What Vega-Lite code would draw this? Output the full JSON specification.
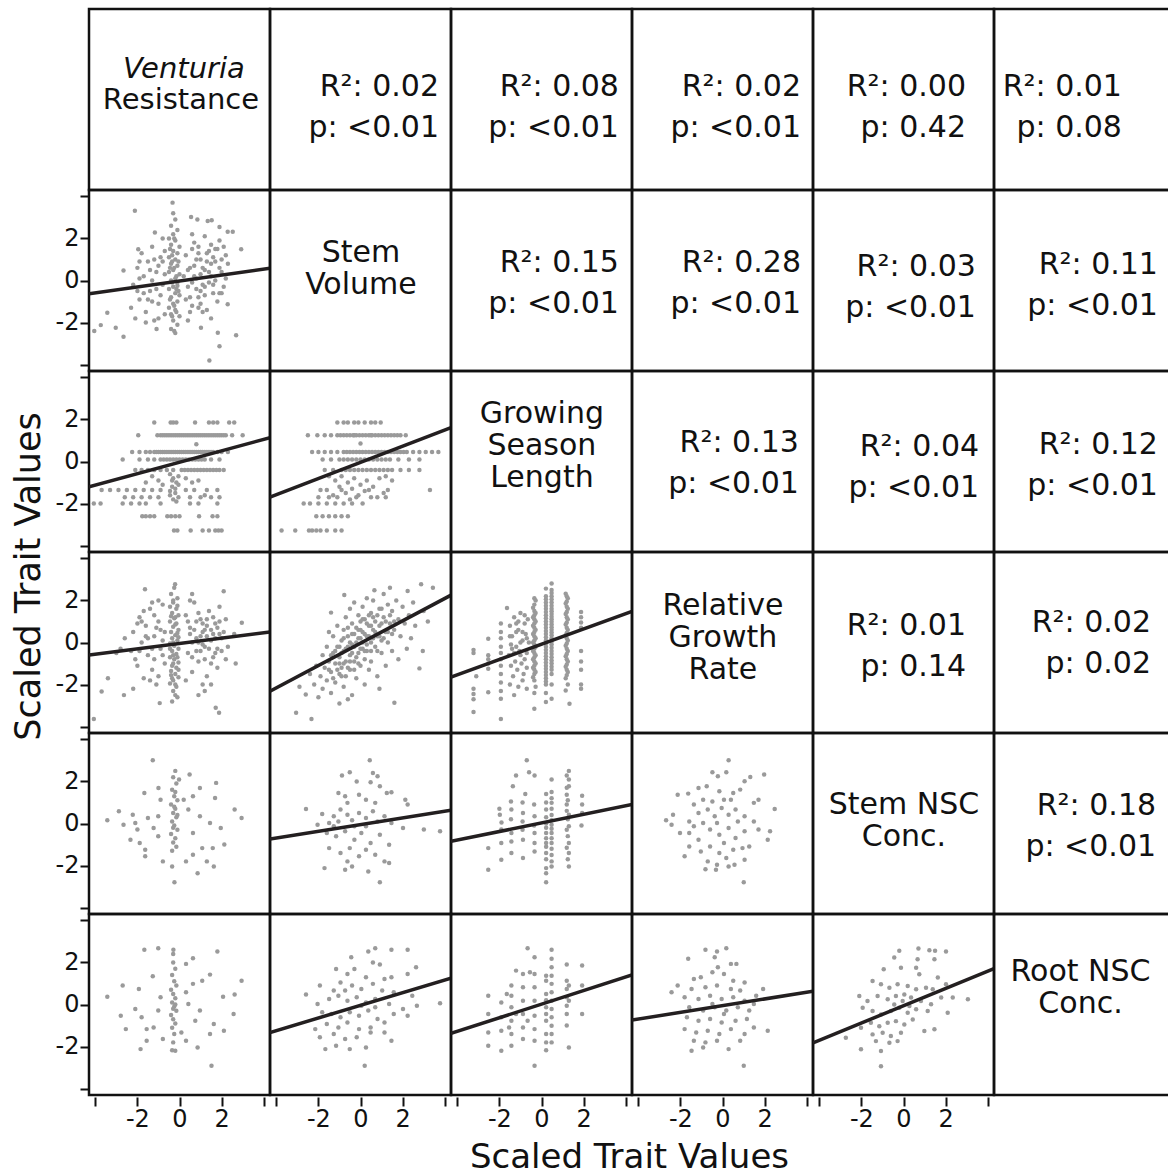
{
"$schema":"https://vega.github.io/schema/vega-lite/v6.json",
"padding":{"left":9,"top":7,"right":0,"bottom":0},
"bounds":"flush","columns":6,"spacing":0,
"config":{"view":{"stroke":"#111111","strokeWidth":2.5},"font":"DejaVu Sans",
"axis":{"domain":false,"grid":false,"tickColor":"#111111","tickWidth":2,"labelColor":"#111111","labelFont":"DejaVu Sans","labelFontSize":24,"labelFlush":false,"labelOverlap":false,"titleFont":"DejaVu Sans","titleFontSize":34,"titleFontWeight":"normal","titleColor":"#111111"},
"axisX":{"tickSize":9,"offset":2,"labelPadding":1},
"axisY":{"tickSize":9,"labelPadding":1},
"text":{"font":"DejaVu Sans","color":"#111111"}},
"concat":[
{"width":181,"height":181,"layer":[
 {"data":{"values":[{"t":"Venturia"}]},"mark":{"type":"text","fontStyle":"italic","fontSize":29,"baseline":"alphabetic","align":"center"},"encoding":{"text":{"field":"t","type":"nominal"},"x":{"datum":0.21,"type":"quantitative","scale":{"domain":[-4.3,4.3]},"axis":null},"y":{"datum":1.02,"type":"quantitative","scale":{"domain":[-4.3,4.3]},"axis":null}}},
 {"data":{"values":[{"t":"Resistance"}]},"mark":{"type":"text","fontSize":29,"baseline":"alphabetic","align":"center"},"encoding":{"text":{"field":"t","type":"nominal"},"x":{"datum":0.07,"type":"quantitative","scale":{"domain":[-4.3,4.3]},"axis":null},"y":{"datum":-0.45,"type":"quantitative","scale":{"domain":[-4.3,4.3]},"axis":null}}}]},
{"width":181,"height":181,"data":{"values":[{"t":"R²: 0.02\np: <0.01"}]},"mark":{"type":"text","lineBreak":"\n","align":"right","baseline":"middle","fontSize":30,"lineHeight":41},"encoding":{"text":{"field":"t","type":"nominal"},"x":{"datum":3.73,"type":"quantitative","scale":{"domain":[-4.3,4.3]},"axis":null},"y":{"datum":0.61,"type":"quantitative","scale":{"domain":[-4.3,4.3]},"axis":null}}},
{"width":181,"height":181,"data":{"values":[{"t":"R²: 0.08\np: <0.01"}]},"mark":{"type":"text","lineBreak":"\n","align":"right","baseline":"middle","fontSize":30,"lineHeight":41},"encoding":{"text":{"field":"t","type":"nominal"},"x":{"datum":3.68,"type":"quantitative","scale":{"domain":[-4.3,4.3]},"axis":null},"y":{"datum":0.61,"type":"quantitative","scale":{"domain":[-4.3,4.3]},"axis":null}}},
{"width":181,"height":181,"data":{"values":[{"t":"R²: 0.02\np: <0.01"}]},"mark":{"type":"text","lineBreak":"\n","align":"right","baseline":"middle","fontSize":30,"lineHeight":41},"encoding":{"text":{"field":"t","type":"nominal"},"x":{"datum":3.73,"type":"quantitative","scale":{"domain":[-4.3,4.3]},"axis":null},"y":{"datum":0.61,"type":"quantitative","scale":{"domain":[-4.3,4.3]},"axis":null}}},
{"width":181,"height":181,"data":{"values":[{"t":"R²: 0.00\np: 0.42"}]},"mark":{"type":"text","lineBreak":"\n","align":"right","baseline":"middle","fontSize":30,"lineHeight":41},"encoding":{"text":{"field":"t","type":"nominal"},"x":{"datum":2.97,"type":"quantitative","scale":{"domain":[-4.3,4.3]},"axis":null},"y":{"datum":0.61,"type":"quantitative","scale":{"domain":[-4.3,4.3]},"axis":null}}},
{"width":181,"height":181,"data":{"values":[{"t":"R²: 0.01\np: 0.08"}]},"mark":{"type":"text","lineBreak":"\n","align":"right","baseline":"middle","fontSize":30,"lineHeight":41},"encoding":{"text":{"field":"t","type":"nominal"},"x":{"datum":1.78,"type":"quantitative","scale":{"domain":[-4.3,4.3]},"axis":null},"y":{"datum":0.61,"type":"quantitative","scale":{"domain":[-4.3,4.3]},"axis":null}}},

{"width":181,"height":181,"encoding":{"x":{"field":"x","type":"quantitative","scale":{"domain":[-4.3,4.3],"nice":false,"zero":false},"axis":null},"y":{"field":"y","type":"quantitative","scale":{"domain":[-4.3,4.3],"nice":false,"zero":false},"axis":{"title":null,"values":[-4,-2,0,2,4],"labelExpr":"abs(datum.value) > 3 ? '' : '' + datum.value"}}},"layer":[
 {"data":{"values":[{"x":-0.3,"y":3.2},{"x":-0.2,"y":2.9},{"x":-0.4,"y":2.6},{"x":-0.1,"y":2.4},{"x":-0.3,"y":2.2},{"x":-0.5,"y":2.0},{"x":-0.2,"y":1.9},{"x":-0.4,"y":1.7},{"x":0,"y":1.6},{"x":-0.3,"y":1.4},{"x":-0.1,"y":1.3},{"x":-0.5,"y":1.1},{"x":-0.2,"y":1.0},{"x":-0.4,"y":0.8},{"x":-0.1,"y":0.7},{"x":-0.3,"y":0.5},{"x":-0.5,"y":0.4},{"x":0,"y":0.3},{"x":-0.2,"y":0.1},{"x":-0.4,"y":0},{"x":-0.1,"y":-0.1},{"x":-0.3,"y":-0.3},{"x":-0.5,"y":-0.4},{"x":-0.2,"y":-0.6},{"x":0,"y":-0.7},{"x":-0.4,"y":-0.8},{"x":-0.1,"y":-1.0},{"x":-0.3,"y":-1.1},{"x":-0.5,"y":-1.3},{"x":-0.2,"y":-1.4},{"x":-0.4,"y":-1.6},{"x":0,"y":-1.7},{"x":-0.3,"y":-1.9},{"x":-0.1,"y":-2.1},{"x":-0.4,"y":-2.3},{"x":-0.2,"y":-2.5},{"x":-0.35,"y":0.9},{"x":-0.15,"y":-0.4},{"x":-0.45,"y":1.5},{"x":-0.25,"y":-1.2},
 {"x":-0.25,"y":2.0},{"x":-0.35,"y":1.2},{"x":-0.05,"y":0.9},{"x":-0.45,"y":0.6},{"x":-0.15,"y":0.2},{"x":-0.35,"y":-0.1},{"x":-0.05,"y":-0.5},{"x":-0.45,"y":-0.9},{"x":-0.15,"y":-1.5},{"x":-0.35,"y":-1.7},{"x":-0.25,"y":0.6},{"x":-0.1,"y":-0.25},
 {"x":-2.2,"y":-0.2},{"x":-2.0,"y":0.6},{"x":-1.9,"y":-0.9},{"x":-1.8,"y":1.3},{"x":-1.7,"y":0.2},{"x":-1.6,"y":-1.5},{"x":-1.5,"y":0.9},{"x":-1.4,"y":-0.5},{"x":-1.3,"y":1.6},{"x":-1.2,"y":-1.9},{"x":-1.1,"y":0.4},{"x":-1.0,"y":-1.1},{"x":-0.9,"y":1.1},{"x":-0.8,"y":-0.2},{"x":-0.8,"y":2.0},{"x":-0.7,"y":-1.6},{"x":-1.3,"y":0.0},{"x":-1.6,"y":-2.0},{"x":-2.3,"y":-1.3},{"x":-2.1,"y":-1.8},{"x":-1.9,"y":0.1},{"x":-1.2,"y":1.0},{"x":-0.9,"y":-0.7},{"x":-1.0,"y":0.7},{"x":-1.5,"y":-0.9},{"x":0.3,"y":1.2},{"x":0.4,"y":-0.3},{"x":0.5,"y":0.6},{"x":0.6,"y":-1.2},{"x":0.7,"y":1.8},{"x":0.8,"y":0.1},{"x":0.9,"y":-0.8},{"x":1.0,"y":1.0},{"x":1.1,"y":-0.2},{"x":1.2,"y":0.5},{"x":1.3,"y":-1.4},{"x":1.4,"y":1.4},{"x":1.5,"y":0.2},{"x":1.6,"y":-0.6},{"x":1.7,"y":0.9},{"x":1.8,"y":-1.0},{"x":1.9,"y":1.9},{"x":2.0,"y":0.4},{"x":2.1,"y":-0.3},{"x":2.2,"y":1.2},{"x":0.6,"y":2.2},{"x":0.9,"y":1.6},{"x":1.2,"y":2.1},{"x":1.5,"y":-1.8},{"x":1.1,"y":-1.5},{"x":0.4,"y":-1.9},{"x":0.2,"y":0.2},{"x":0.3,"y":-0.9},{"x":2.3,"y":0.8},{"x":1.8,"y":1.5},
 {"x":-1.7,"y":-0.6},{"x":-1.4,"y":0.5},{"x":-1.1,"y":-0.4},{"x":-0.8,"y":0.9},{"x":-0.7,"y":0.3},{"x":-1.0,"y":-1.8},{"x":-1.9,"y":0.9},{"x":-0.7,"y":1.4},{"x":-1.3,"y":-1.0},{"x":-2.0,"y":-0.5},{"x":0.4,"y":0.5},{"x":0.5,"y":-0.8},{"x":0.7,"y":0.2},{"x":0.8,"y":1.0},{"x":1.0,"y":-0.5},{"x":1.1,"y":0.6},{"x":1.3,"y":1.3},{"x":1.4,"y":0.4},{"x":1.6,"y":-0.2},{"x":1.7,"y":1.5},{"x":1.9,"y":-0.6},{"x":2.0,"y":1.0},{"x":0.6,"y":1.5},{"x":1.2,"y":-0.3},{"x":0.5,"y":-1.5},{"x":1.5,"y":0.8},{"x":2.2,"y":0.1},{"x":0.9,"y":-1.3},
 {"x":0.7,"y":0.7},{"x":1.0,"y":0.3},{"x":1.3,"y":0.9},{"x":1.6,"y":1.1},{"x":1.4,"y":-0.1},{"x":0.8,"y":-0.4},{"x":1.7,"y":0.0},{"x":1.2,"y":-0.7},{"x":0.9,"y":1.3},{"x":1.9,"y":0.6},{"x":2.1,"y":1.6},{"x":1.5,"y":1.7},{"x":0.6,"y":-0.1},{"x":1.0,"y":-1.1},{"x":2.0,"y":-0.6},
 {"x":-4.05,"y":-2.4},{"x":-3.74,"y":-2.12},{"x":-3.43,"y":-1.53},{"x":-3.03,"y":-2.25},{"x":-2.66,"y":-2.67},{"x":-2.66,"y":0.48},{"x":-2.12,"y":3.31},{"x":-1.96,"y":1.48},{"x":-1.17,"y":2.28},{"x":-1.09,"y":-2.3},{"x":-0.33,"y":3.7},{"x":-0.25,"y":-2.4},{"x":0.55,"y":3.02},{"x":0.85,"y":2.9},{"x":1.34,"y":2.83},{"x":1.53,"y":2.86},{"x":1.9,"y":2.54},{"x":2.29,"y":2.32},{"x":2.53,"y":2.32},{"x":2.93,"y":1.48},{"x":2.69,"y":-2.6},{"x":1.9,"y":-3.12},{"x":1.42,"y":-3.8},{"x":2.29,"y":-1.13},{"x":1.82,"y":-2.48},{"x":1.02,"y":-2.25}]},"mark":{"type":"circle","size":20,"color":"#9a9a9a","opacity":1}},
 {"data":{"values":[{"x":-4.3,"y":-0.63},{"x":4.3,"y":0.58}]},"mark":{"type":"line","color":"#231f20","strokeWidth":3.5,"clip":true}}]},
{"width":181,"height":181,"data":{"values":[{"t":"Stem\nVolume"}]},"mark":{"type":"text","lineBreak":"\n","align":"center","baseline":"middle","fontSize":30,"lineHeight":32},"encoding":{"text":{"field":"t","type":"nominal"},"x":{"datum":0.02,"type":"quantitative","scale":{"domain":[-4.3,4.3]},"axis":null},"y":{"datum":1.33,"type":"quantitative","scale":{"domain":[-4.3,4.3]},"axis":null}}},
{"width":181,"height":181,"data":{"values":[{"t":"R²: 0.15\np: <0.01"}]},"mark":{"type":"text","lineBreak":"\n","align":"right","baseline":"middle","fontSize":30,"lineHeight":41},"encoding":{"text":{"field":"t","type":"nominal"},"x":{"datum":3.68,"type":"quantitative","scale":{"domain":[-4.3,4.3]},"axis":null},"y":{"datum":0.85,"type":"quantitative","scale":{"domain":[-4.3,4.3]},"axis":null}}},
{"width":181,"height":181,"data":{"values":[{"t":"R²: 0.28\np: <0.01"}]},"mark":{"type":"text","lineBreak":"\n","align":"right","baseline":"middle","fontSize":30,"lineHeight":41},"encoding":{"text":{"field":"t","type":"nominal"},"x":{"datum":3.73,"type":"quantitative","scale":{"domain":[-4.3,4.3]},"axis":null},"y":{"datum":0.85,"type":"quantitative","scale":{"domain":[-4.3,4.3]},"axis":null}}},
{"width":181,"height":181,"data":{"values":[{"t":"R²: 0.03\np: <0.01"}]},"mark":{"type":"text","lineBreak":"\n","align":"right","baseline":"middle","fontSize":30,"lineHeight":41},"encoding":{"text":{"field":"t","type":"nominal"},"x":{"datum":3.44,"type":"quantitative","scale":{"domain":[-4.3,4.3]},"axis":null},"y":{"datum":0.66,"type":"quantitative","scale":{"domain":[-4.3,4.3]},"axis":null}}},
{"width":181,"height":181,"data":{"values":[{"t":"R²: 0.11\np: <0.01"}]},"mark":{"type":"text","lineBreak":"\n","align":"right","baseline":"middle","fontSize":30,"lineHeight":41},"encoding":{"text":{"field":"t","type":"nominal"},"x":{"datum":3.49,"type":"quantitative","scale":{"domain":[-4.3,4.3]},"axis":null},"y":{"datum":0.76,"type":"quantitative","scale":{"domain":[-4.3,4.3]},"axis":null}}},

{"width":181,"height":181,"encoding":{"x":{"field":"x","type":"quantitative","scale":{"domain":[-4.3,4.3],"nice":false,"zero":false},"axis":null},"y":{"field":"y","type":"quantitative","scale":{"domain":[-4.3,4.3],"nice":false,"zero":false},"axis":{"title":null,"values":[-4,-2,0,2,4],"labelExpr":"abs(datum.value) > 3 ? '' : '' + datum.value"}}},"layer":[
 {"data":{"values":[{"x":-1.2,"y":1.85},{"x":-0.42,"y":1.85},{"x":-0.3,"y":1.85},{"x":-0.15,"y":1.85},{"x":0.74,"y":1.85},{"x":1.4,"y":1.85},{"x":1.6,"y":1.85},{"x":1.8,"y":1.85},{"x":2.36,"y":1.85},{"x":2.6,"y":1.85},
 {"x":-1.96,"y":1.25},{"x":-1.05,"y":1.25},{"x":-0.9,"y":1.25},{"x":-0.8,"y":1.25},{"x":-0.6,"y":1.25},{"x":-0.4,"y":1.25},{"x":-0.2,"y":1.25},{"x":0,"y":1.25},{"x":0.1,"y":1.25},{"x":0.2,"y":1.25},{"x":0.4,"y":1.25},{"x":0.6,"y":1.25},{"x":0.8,"y":1.25},{"x":1.0,"y":1.25},{"x":1.2,"y":1.25},{"x":1.4,"y":1.25},{"x":1.6,"y":1.25},{"x":1.8,"y":1.25},{"x":2.0,"y":1.25},{"x":2.2,"y":1.25},{"x":2.5,"y":1.25},{"x":3.0,"y":1.25},{"x":0.8,"y":0.82},
 {"x":-0.7,"y":1.25},{"x":-0.5,"y":1.25},{"x":-0.3,"y":1.25},{"x":-0.1,"y":1.25},{"x":0.3,"y":1.25},{"x":0.5,"y":1.25},{"x":0.7,"y":1.25},{"x":0.9,"y":1.25},{"x":1.1,"y":1.25},{"x":1.3,"y":1.25},{"x":1.5,"y":1.25},{"x":1.7,"y":1.25},{"x":1.9,"y":1.25},{"x":2.1,"y":1.25},
 {"x":-2.25,"y":0.45},{"x":-1.9,"y":0.45},{"x":-1.6,"y":0.45},{"x":-1.4,"y":0.45},{"x":-1.2,"y":0.45},{"x":-1.0,"y":0.45},{"x":-0.8,"y":0.45},{"x":-0.6,"y":0.45},{"x":-0.4,"y":0.45},{"x":-0.2,"y":0.45},{"x":0,"y":0.45},{"x":0.2,"y":0.45},{"x":0.4,"y":0.45},{"x":0.6,"y":0.45},{"x":0.8,"y":0.45},{"x":1.0,"y":0.45},{"x":1.2,"y":0.45},{"x":1.4,"y":0.45},{"x":1.6,"y":0.45},{"x":1.8,"y":0.45},{"x":2.0,"y":0.45},{"x":2.3,"y":0.45},
 {"x":-1.1,"y":0.45},{"x":-0.9,"y":0.45},{"x":-0.7,"y":0.45},{"x":-0.5,"y":0.45},{"x":-0.3,"y":0.45},{"x":-0.1,"y":0.45},{"x":0.1,"y":0.45},{"x":0.3,"y":0.45},{"x":0.5,"y":0.45},{"x":0.7,"y":0.45},{"x":0.9,"y":0.45},{"x":1.1,"y":0.45},{"x":1.3,"y":0.45},{"x":1.5,"y":0.45},
 {"x":-2.7,"y":0.1},{"x":-1.9,"y":0.1},{"x":-1.5,"y":0.1},{"x":-1.2,"y":0.1},{"x":-0.9,"y":0.1},{"x":-0.6,"y":0.1},{"x":-0.3,"y":0.1},{"x":0,"y":0.1},{"x":0.3,"y":0.1},{"x":0.6,"y":0.1},{"x":0.9,"y":0.1},{"x":1.2,"y":0.1},{"x":1.5,"y":0.1},{"x":1.9,"y":0.1},
 {"x":-0.75,"y":0.1},{"x":-0.45,"y":0.1},{"x":-0.15,"y":0.1},{"x":0.15,"y":0.1},{"x":0.45,"y":0.1},{"x":0.75,"y":0.1},{"x":1.05,"y":0.1},
 {"x":-2.1,"y":-0.4},{"x":-1.8,"y":-0.4},{"x":-1.5,"y":-0.4},{"x":-1.2,"y":-0.4},{"x":-0.9,"y":-0.4},{"x":-0.6,"y":-0.4},{"x":-0.3,"y":-0.4},{"x":0.1,"y":-0.4},{"x":0.4,"y":-0.4},{"x":0.7,"y":-0.4},{"x":1.0,"y":-0.4},{"x":1.3,"y":-0.4},{"x":1.6,"y":-0.4},{"x":1.9,"y":-0.4},{"x":2.1,"y":-0.4},
 {"x":0.25,"y":-0.4},{"x":0.55,"y":-0.4},{"x":0.85,"y":-0.4},{"x":1.15,"y":-0.4},{"x":1.45,"y":-0.4},{"x":1.75,"y":-0.4},
 {"x":-0.45,"y":-0.6},{"x":-0.3,"y":-0.8},{"x":-0.15,"y":-1.0},{"x":-0.05,"y":-1.1},{"x":-0.35,"y":-1.2},{"x":-0.2,"y":-1.5},{"x":-0.45,"y":-1.6},{"x":-0.3,"y":-1.8},{"x":-0.15,"y":-1.9},{"x":-0.05,"y":-0.7},{"x":-0.35,"y":-0.9},{"x":-0.2,"y":-1.3},{"x":-0.45,"y":-1.4},{"x":-0.05,"y":-1.7},
 {"x":-1.3,"y":-0.7},{"x":-1.0,"y":-0.9},{"x":-0.8,"y":-1.1},{"x":0.3,"y":-0.8},{"x":0.6,"y":-1.0},{"x":-1.6,"y":-1.0},{"x":0.9,"y":-0.9},{"x":1.2,"y":-1.6},
 {"x":-3.7,"y":-1.35},{"x":-3.3,"y":-1.35},{"x":-2.9,"y":-1.35},{"x":-2.5,"y":-1.35},{"x":-2.1,"y":-1.35},{"x":-1.7,"y":-1.35},{"x":-1.3,"y":-1.35},{"x":-0.9,"y":-1.35},{"x":0.3,"y":-1.35},{"x":0.7,"y":-1.35},{"x":1.3,"y":-1.35},{"x":1.8,"y":-1.35},
 {"x":-2.6,"y":-1.7},{"x":-2.2,"y":-1.7},{"x":-1.8,"y":-1.7},{"x":-1.4,"y":-1.7},{"x":-1.0,"y":-1.7},{"x":0.5,"y":-1.7},{"x":1.0,"y":-1.7},{"x":1.5,"y":-1.7},{"x":1.9,"y":-1.7},
 {"x":-4.07,"y":-2.0},{"x":-3.75,"y":-2.0},{"x":-2.7,"y":-2.0},{"x":-2.3,"y":-2.0},{"x":-1.9,"y":-2.0},{"x":-1.6,"y":-2.0},{"x":-0.9,"y":-2.0},{"x":0.5,"y":-2.0},{"x":0.9,"y":-2.0},{"x":1.8,"y":-2.0},
 {"x":-1.77,"y":-2.6},{"x":-1.6,"y":-2.6},{"x":-1.4,"y":-2.6},{"x":-1.2,"y":-2.6},{"x":-0.58,"y":-2.6},{"x":-0.4,"y":-2.6},{"x":-0.2,"y":-2.6},{"x":0,"y":-2.6},{"x":0.93,"y":-2.6},{"x":1.57,"y":-2.6},{"x":1.8,"y":-2.6},
 {"x":-0.26,"y":-3.28},{"x":-0.1,"y":-3.28},{"x":0.53,"y":-3.28},{"x":1.1,"y":-3.28},{"x":1.4,"y":-3.28},{"x":1.7,"y":-3.28},{"x":1.85,"y":-3.28},{"x":2.0,"y":-3.28}]},"mark":{"type":"circle","size":20,"color":"#9a9a9a","opacity":1}},
 {"data":{"values":[{"x":-4.3,"y":-1.2},{"x":4.3,"y":1.13}]},"mark":{"type":"line","color":"#231f20","strokeWidth":3.5,"clip":true}}]},
{"width":181,"height":181,"encoding":{"x":{"field":"x","type":"quantitative","scale":{"domain":[-4.3,4.3],"nice":false,"zero":false},"axis":null},"y":{"field":"y","type":"quantitative","scale":{"domain":[-4.3,4.3],"nice":false,"zero":false},"axis":null}},"layer":[
 {"data":{"values":[{"x":-1.1,"y":1.85},{"x":-0.8,"y":1.85},{"x":-0.6,"y":1.85},{"x":-0.3,"y":1.85},{"x":-0.1,"y":1.85},{"x":0.2,"y":1.85},{"x":0.5,"y":1.85},{"x":0.7,"y":1.85},{"x":0.96,"y":1.85},
 {"x":-2.5,"y":1.25},{"x":-2.05,"y":1.25},{"x":-1.7,"y":1.25},{"x":-1.4,"y":1.25},{"x":-1.1,"y":1.25},{"x":-0.8,"y":1.25},{"x":-0.5,"y":1.25},{"x":-0.3,"y":1.25},{"x":-0.2,"y":1.25},{"x":0.1,"y":1.25},{"x":0.4,"y":1.25},{"x":0.5,"y":1.25},{"x":0.7,"y":1.25},{"x":1.0,"y":1.25},{"x":1.3,"y":1.25},{"x":1.6,"y":1.25},{"x":1.9,"y":1.25},{"x":2.15,"y":1.25},{"x":0.0,"y":0.85},
 {"x":-0.95,"y":1.25},{"x":-0.65,"y":1.25},{"x":-0.35,"y":1.25},{"x":-0.05,"y":1.25},{"x":0.25,"y":1.25},{"x":0.55,"y":1.25},{"x":0.85,"y":1.25},{"x":1.15,"y":1.25},{"x":1.45,"y":1.25},{"x":1.75,"y":1.25},
 {"x":-2.3,"y":0.45},{"x":-2.0,"y":0.45},{"x":-1.7,"y":0.45},{"x":-1.4,"y":0.45},{"x":-1.1,"y":0.45},{"x":-0.8,"y":0.45},{"x":-0.5,"y":0.45},{"x":-0.2,"y":0.45},{"x":0.1,"y":0.45},{"x":0.4,"y":0.45},{"x":0.7,"y":0.45},{"x":1.0,"y":0.45},{"x":1.3,"y":0.45},{"x":1.6,"y":0.45},{"x":1.9,"y":0.45},{"x":2.2,"y":0.45},{"x":2.5,"y":0.45},{"x":2.8,"y":0.45},{"x":3.1,"y":0.45},{"x":3.4,"y":0.45},{"x":3.7,"y":0.45},
 {"x":-0.65,"y":0.45},{"x":-0.35,"y":0.45},{"x":-0.05,"y":0.45},{"x":0.25,"y":0.45},{"x":0.55,"y":0.45},{"x":0.85,"y":0.45},{"x":1.15,"y":0.45},{"x":1.45,"y":0.45},{"x":1.75,"y":0.45},{"x":2.05,"y":0.45},
 {"x":-1.8,"y":0.1},{"x":-1.4,"y":0.1},{"x":-1.0,"y":0.1},{"x":-0.6,"y":0.1},{"x":-0.2,"y":0.1},{"x":0.2,"y":0.1},{"x":0.6,"y":0.1},{"x":1.0,"y":0.1},{"x":1.4,"y":0.1},{"x":1.8,"y":0.1},{"x":2.3,"y":0.1},{"x":2.8,"y":0.1},
 {"x":-0.8,"y":0.1},{"x":-0.4,"y":0.1},{"x":0,"y":0.1},{"x":0.4,"y":0.1},{"x":0.8,"y":0.1},{"x":1.2,"y":0.1},
 {"x":-1.7,"y":-0.4},{"x":-1.3,"y":-0.4},{"x":-0.9,"y":-0.4},{"x":-0.5,"y":-0.4},{"x":-0.1,"y":-0.4},{"x":0.3,"y":-0.4},{"x":0.7,"y":-0.4},{"x":1.1,"y":-0.4},{"x":1.5,"y":-0.4},{"x":1.9,"y":-0.4},{"x":2.3,"y":-0.4},{"x":2.8,"y":-0.4},
 {"x":-0.7,"y":-0.4},{"x":-0.3,"y":-0.4},{"x":0.1,"y":-0.4},{"x":0.5,"y":-0.4},{"x":0.9,"y":-0.4},{"x":1.3,"y":-0.4},
 {"x":-1.5,"y":-0.7},{"x":-1.2,"y":-0.9},{"x":-0.9,"y":-0.7},{"x":-0.6,"y":-1.0},{"x":-0.3,"y":-0.8},{"x":0,"y":-1.1},{"x":0.3,"y":-0.9},{"x":0.6,"y":-1.2},{"x":0.9,"y":-0.8},{"x":1.2,"y":-0.7},{"x":1.5,"y":-0.9},{"x":-1.0,"y":-1.2},{"x":-0.4,"y":-1.3},{"x":0.2,"y":-1.4},{"x":-0.7,"y":-1.5},{"x":-0.1,"y":-1.6},{"x":0.5,"y":-1.7},{"x":-1.3,"y":-1.6},{"x":1.1,"y":-1.5},{"x":-0.5,"y":-1.8},
 {"x":-1.9,"y":-1.35},{"x":-1.6,"y":-1.35},{"x":-0.9,"y":-1.35},{"x":0.4,"y":-1.35},{"x":1.3,"y":-1.35},{"x":3.3,"y":-1.35},
 {"x":-2.0,"y":-1.7},{"x":-1.5,"y":-1.7},{"x":-1.1,"y":-1.7},{"x":-0.2,"y":-1.7},{"x":0.8,"y":-1.7},{"x":1.2,"y":-1.7},
 {"x":-2.7,"y":-2.0},{"x":-2.4,"y":-2.0},{"x":-2.0,"y":-2.0},{"x":-1.6,"y":-2.0},{"x":-1.2,"y":-2.0},{"x":-0.8,"y":-2.0},{"x":-0.4,"y":-2.0},{"x":0.1,"y":-2.0},
 {"x":-2.1,"y":-2.6},{"x":-1.8,"y":-2.6},{"x":-1.5,"y":-2.6},{"x":-1.2,"y":-2.6},{"x":-0.9,"y":-2.6},{"x":-0.6,"y":-2.6},
 {"x":-3.75,"y":-3.28},{"x":-3.1,"y":-3.28},{"x":-2.45,"y":-3.28},{"x":-2.3,"y":-3.28},{"x":-2.1,"y":-3.28},{"x":-1.9,"y":-3.28},{"x":-1.6,"y":-3.28},{"x":-1.2,"y":-3.28},{"x":-0.9,"y":-3.28}]},"mark":{"type":"circle","size":20,"color":"#9a9a9a","opacity":1}},
 {"data":{"values":[{"x":-4.3,"y":-1.69},{"x":4.3,"y":1.61}]},"mark":{"type":"line","color":"#231f20","strokeWidth":3.5,"clip":true}}]},
{"width":181,"height":181,"data":{"values":[{"t":"Growing\nSeason\nLength"}]},"mark":{"type":"text","lineBreak":"\n","align":"center","baseline":"middle","fontSize":30,"lineHeight":32},"encoding":{"text":{"field":"t","type":"nominal"},"x":{"datum":0.02,"type":"quantitative","scale":{"domain":[-4.3,4.3]},"axis":null},"y":{"datum":2.27,"type":"quantitative","scale":{"domain":[-4.3,4.3]},"axis":null}}},
{"width":181,"height":181,"data":{"values":[{"t":"R²: 0.13\np: <0.01"}]},"mark":{"type":"text","lineBreak":"\n","align":"right","baseline":"middle","fontSize":30,"lineHeight":41},"encoding":{"text":{"field":"t","type":"nominal"},"x":{"datum":3.63,"type":"quantitative","scale":{"domain":[-4.3,4.3]},"axis":null},"y":{"datum":0.9,"type":"quantitative","scale":{"domain":[-4.3,4.3]},"axis":null}}},
{"width":181,"height":181,"data":{"values":[{"t":"R²: 0.04\np: <0.01"}]},"mark":{"type":"text","lineBreak":"\n","align":"right","baseline":"middle","fontSize":30,"lineHeight":41},"encoding":{"text":{"field":"t","type":"nominal"},"x":{"datum":3.59,"type":"quantitative","scale":{"domain":[-4.3,4.3]},"axis":null},"y":{"datum":0.71,"type":"quantitative","scale":{"domain":[-4.3,4.3]},"axis":null}}},
{"width":181,"height":181,"data":{"values":[{"t":"R²: 0.12\np: <0.01"}]},"mark":{"type":"text","lineBreak":"\n","align":"right","baseline":"middle","fontSize":30,"lineHeight":41},"encoding":{"text":{"field":"t","type":"nominal"},"x":{"datum":3.49,"type":"quantitative","scale":{"domain":[-4.3,4.3]},"axis":null},"y":{"datum":0.8,"type":"quantitative","scale":{"domain":[-4.3,4.3]},"axis":null}}},

{"width":181,"height":181,"encoding":{"x":{"field":"x","type":"quantitative","scale":{"domain":[-4.3,4.3],"nice":false,"zero":false},"axis":null},"y":{"field":"y","type":"quantitative","scale":{"domain":[-4.3,4.3],"nice":false,"zero":false},"axis":{"title":"Scaled Trait Values","titleX":-50,"titleY":24,"titleAngle":270,"titleAlign":"center","titleBaseline":"alphabetic","titleFontSize":35,"values":[-4,-2,0,2,4],"labelExpr":"abs(datum.value) > 3 ? '' : '' + datum.value"}}},"layer":[
 {"data":{"values":[{"x":-0.25,"y":2.6},{"x":-0.4,"y":2.3},{"x":-0.1,"y":2.1},{"x":-0.3,"y":1.9},{"x":-0.45,"y":1.7},{"x":-0.15,"y":1.6},{"x":-0.35,"y":1.4},{"x":-0.05,"y":1.3},{"x":-0.25,"y":1.15},{"x":-0.45,"y":1.0},{"x":-0.15,"y":0.9},{"x":-0.3,"y":0.75},{"x":-0.05,"y":0.6},{"x":-0.4,"y":0.5},{"x":-0.2,"y":0.35},{"x":-0.35,"y":0.2},{"x":-0.1,"y":0.1},{"x":-0.45,"y":-0.05},{"x":-0.25,"y":-0.15},{"x":-0.05,"y":-0.3},{"x":-0.35,"y":-0.4},{"x":-0.15,"y":-0.55},{"x":-0.45,"y":-0.7},{"x":-0.25,"y":-0.8},{"x":-0.05,"y":-0.95},{"x":-0.35,"y":-1.1},{"x":-0.15,"y":-1.2},{"x":-0.4,"y":-1.35},{"x":-0.2,"y":-1.5},{"x":-0.05,"y":-1.65},{"x":-0.3,"y":-1.8},{"x":-0.45,"y":-1.95},{"x":-0.15,"y":-2.1},{"x":-0.3,"y":-2.3},{"x":-0.2,"y":-2.5},{"x":-0.35,"y":-2.8},{"x":-0.1,"y":0.45},{"x":-0.3,"y":-0.6},{"x":-0.2,"y":1.2},{"x":-0.4,"y":-1.55},
 {"x":-0.3,"y":2.0},{"x":-0.1,"y":1.75},{"x":-0.4,"y":1.25},{"x":-0.2,"y":0.85},{"x":-0.05,"y":0.25},{"x":-0.3,"y":0.0},{"x":-0.45,"y":-0.3},{"x":-0.1,"y":-0.7},{"x":-0.3,"y":-1.0},{"x":-0.05,"y":-1.3},{"x":-0.35,"y":-1.7},{"x":-0.2,"y":-2.0},{"x":-0.1,"y":-2.6},
 {"x":-2.3,"y":-0.4},{"x":-2.2,"y":0.5},{"x":-2.0,"y":-1.1},{"x":-1.9,"y":1.2},{"x":-1.8,"y":0.0},{"x":-1.7,"y":-1.7},{"x":-1.6,"y":0.8},{"x":-1.5,"y":-0.6},{"x":-1.4,"y":1.6},{"x":-1.3,"y":-1.3},{"x":-1.2,"y":0.3},{"x":-1.1,"y":-2.0},{"x":-1.0,"y":1.0},{"x":-0.9,"y":-0.3},{"x":-0.8,"y":1.8},{"x":-0.7,"y":-1.0},{"x":-1.5,"y":0.2},{"x":-1.2,"y":-0.8},{"x":-0.9,"y":0.6},{"x":-2.1,"y":-0.8},{"x":-1.7,"y":1.5},{"x":-1.0,"y":-1.6},{"x":-0.8,"y":0.1},{"x":-1.3,"y":1.9},{"x":-2.0,"y":0.9},{"x":0.3,"y":1.3},{"x":0.4,"y":-0.5},{"x":0.5,"y":0.7},{"x":0.6,"y":-1.4},{"x":0.7,"y":1.9},{"x":0.8,"y":0.2},{"x":0.9,"y":-0.9},{"x":1.0,"y":1.1},{"x":1.1,"y":-0.1},{"x":1.2,"y":0.6},{"x":1.3,"y":-1.6},{"x":1.4,"y":1.5},{"x":1.5,"y":0.1},{"x":1.6,"y":-0.7},{"x":1.7,"y":0.9},{"x":1.8,"y":-1.2},{"x":1.9,"y":0.4},{"x":2.0,"y":-0.4},{"x":2.2,"y":1.1},{"x":2.3,"y":-0.2},{"x":0.3,"y":-1.8},{"x":0.6,"y":2.3},{"x":1.1,"y":-2.0},{"x":1.5,"y":-2.0},{"x":2.1,"y":0.5},
 {"x":-1.9,"y":-0.4},{"x":-1.6,"y":0.3},{"x":-1.3,"y":-0.3},{"x":-1.1,"y":0.7},{"x":-0.8,"y":-0.6},{"x":-1.4,"y":-1.8},{"x":-0.7,"y":0.5},{"x":-1.8,"y":1.0},{"x":-1.2,"y":1.3},{"x":0.5,"y":0.4},{"x":0.6,"y":-0.7},{"x":0.8,"y":1.0},{"x":1.0,"y":-0.4},{"x":1.1,"y":0.5},{"x":1.3,"y":1.1},{"x":1.5,"y":-1.0},{"x":1.6,"y":0.4},{"x":1.8,"y":0.7},{"x":2.0,"y":0.2},{"x":0.9,"y":0.0},{"x":1.2,"y":-0.2},{"x":0.4,"y":1.0},{"x":1.7,"y":-0.5},{"x":2.2,"y":-0.8},
 {"x":0.7,"y":0.6},{"x":1.0,"y":0.3},{"x":1.3,"y":0.8},{"x":1.6,"y":1.2},{"x":1.4,"y":-0.3},{"x":0.8,"y":-0.4},{"x":1.7,"y":0.2},{"x":1.2,"y":-0.8},{"x":0.9,"y":1.4},{"x":1.9,"y":1.0},{"x":1.5,"y":0.6},{"x":1.1,"y":0.9},{"x":0.6,"y":0.0},{"x":1.8,"y":-0.3},{"x":1.3,"y":0.3},
 {"x":-4.07,"y":-3.63},{"x":-3.7,"y":-2.33},{"x":-3.4,"y":-1.7},{"x":-3.0,"y":-0.5},{"x":-2.8,"y":-0.3},{"x":-2.6,"y":0.2},{"x":-1.64,"y":2.53},{"x":-0.21,"y":2.77},{"x":2.1,"y":2.43},{"x":2.96,"y":0.94},{"x":2.67,"y":-1.0},{"x":1.88,"y":-3.34},{"x":1.72,"y":-3.1},{"x":-0.94,"y":-2.88},{"x":-2.64,"y":-2.5},{"x":-2.2,"y":-2.2},{"x":1.2,"y":-2.3},{"x":0.9,"y":-2.5},{"x":1.9,"y":1.7},{"x":2.6,"y":0.4},{"x":-1.0,"y":2.0},{"x":0.5,"y":2.0}]},"mark":{"type":"circle","size":20,"color":"#9a9a9a","opacity":1}},
 {"data":{"values":[{"x":-4.3,"y":-0.6},{"x":4.3,"y":0.5}]},"mark":{"type":"line","color":"#231f20","strokeWidth":3.5,"clip":true}}]},
{"width":181,"height":181,"encoding":{"x":{"field":"x","type":"quantitative","scale":{"domain":[-4.3,4.3],"nice":false,"zero":false},"axis":null},"y":{"field":"y","type":"quantitative","scale":{"domain":[-4.3,4.3],"nice":false,"zero":false},"axis":null}},"layer":[
 {"data":{"values":[{"x":-3.06,"y":-3.34},{"x":-2.6,"y":-2.47},{"x":-2.33,"y":-3.63},{"x":-2.4,"y":-1.5},{"x":-2.2,"y":-2.0},{"x":-2.1,"y":-1.1},{"x":-2.0,"y":-2.6},{"x":-1.9,"y":-1.6},{"x":-1.8,"y":-0.6},{"x":-1.8,"y":-2.2},{"x":-1.7,"y":-1.2},{"x":-1.6,"y":-0.2},{"x":-1.6,"y":-1.8},{"x":-1.5,"y":-0.9},{"x":-1.4,"y":1.42},{"x":-1.4,"y":-1.4},{"x":-1.4,"y":-2.4},{"x":-1.3,"y":-0.5},{"x":-1.3,"y":0.3},{"x":-1.2,"y":-1.0},{"x":-1.2,"y":-1.9},{"x":-1.1,"y":-0.2},{"x":-1.1,"y":0.8},{"x":-1.0,"y":-0.7},{"x":-1.0,"y":-1.5},{"x":-1.0,"y":-2.9},{"x":-0.9,"y":0.1},{"x":-0.9,"y":-1.2},{"x":-0.8,"y":0.6},{"x":-0.8,"y":-0.4},{"x":-0.8,"y":-2.1},{"x":-0.77,"y":2.26},{"x":-0.7,"y":1.2},{"x":-0.7,"y":-0.9},{"x":-0.7,"y":-1.6},{"x":-0.6,"y":0.3},{"x":-0.6,"y":-0.2},{"x":-0.5,"y":1.6},{"x":-0.5,"y":-0.6},{"x":-0.5,"y":-1.3},{"x":-0.4,"y":0.9},{"x":-0.4,"y":-0.1},{"x":-0.4,"y":-2.5},{"x":-0.3,"y":0.4},{"x":-0.3,"y":-0.9},{"x":-0.3,"y":1.9},{"x":-0.2,"y":0.0},{"x":-0.2,"y":-1.7},{"x":-0.1,"y":1.3},{"x":-0.1,"y":0.6},{"x":-0.1,"y":-0.5},{"x":0,"y":0.2},{"x":0,"y":-1.1},{"x":0,"y":1.0},{"x":0.1,"y":1.7},{"x":0.1,"y":-0.3},{"x":0.1,"y":0.5},{"x":0.2,"y":-0.8},{"x":0.2,"y":1.1},{"x":0.2,"y":-2.0},{"x":0.3,"y":0.3},{"x":0.3,"y":2.1},{"x":0.3,"y":-0.4},{"x":0.4,"y":0.8},{"x":0.4,"y":-1.3},{"x":0.5,"y":1.4},{"x":0.5,"y":0.0},{"x":0.5,"y":-0.9},{"x":0.6,"y":0.6},{"x":0.6,"y":2.0},{"x":0.66,"y":2.48},{"x":0.7,"y":-0.2},{"x":0.7,"y":1.0},{"x":0.8,"y":0.3},{"x":0.8,"y":-1.6},{"x":0.9,"y":1.6},{"x":0.9,"y":0.8},{"x":1.0,"y":-0.5},{"x":1.0,"y":0.1},{"x":1.1,"y":1.2},{"x":1.1,"y":2.3},{"x":1.2,"y":0.5},{"x":1.2,"y":-1.1},{"x":1.3,"y":1.8},{"x":1.3,"y":0.0},{"x":1.4,"y":0.9},{"x":1.5,"y":-0.4},{"x":1.5,"y":1.5},{"x":1.61,"y":-2.86},{"x":1.6,"y":0.6},{"x":1.7,"y":2.0},{"x":1.8,"y":1.1},{"x":1.8,"y":-0.8},{"x":1.9,"y":0.3},{"x":2.0,"y":1.7},{"x":2.1,"y":0.9},{"x":2.24,"y":2.45},{"x":2.3,"y":1.3},{"x":2.4,"y":0.2},{"x":2.5,"y":1.9},{"x":2.6,"y":0.8},{"x":2.8,"y":-1.23},{"x":2.88,"y":2.77},{"x":2.96,"y":-0.4},{"x":3.0,"y":1.5},{"x":3.2,"y":1.0},{"x":3.44,"y":2.6},{"x":-2.9,"y":-2.1},{"x":-0.6,"y":-2.7},{"x":0.9,"y":-2.2},{"x":1.4,"y":2.6},{"x":-1.5,"y":0.5},{"x":2.2,"y":-0.3},
 {"x":-1.5,"y":-1.3},{"x":-1.4,"y":-0.6},{"x":-1.3,"y":-1.7},{"x":-1.2,"y":-0.4},{"x":-1.1,"y":-1.3},{"x":-1.0,"y":-0.2},{"x":-1.0,"y":-1.0},{"x":-0.9,"y":-0.5},{"x":-0.9,"y":-1.6},{"x":-0.8,"y":0.2},{"x":-0.8,"y":-1.0},{"x":-0.7,"y":-0.3},{"x":-0.6,"y":-1.2},{"x":-0.6,"y":0.7},{"x":-0.5,"y":0.0},{"x":-0.5,"y":-0.9},{"x":-0.4,"y":0.4},{"x":-0.4,"y":-0.5},{"x":-0.3,"y":-0.2},{"x":-0.3,"y":-1.3},{"x":-0.2,"y":0.7},{"x":-0.2,"y":-0.7},{"x":-0.1,"y":0.2},{"x":-0.1,"y":-1.0},{"x":0,"y":0.6},{"x":0,"y":-0.3},{"x":0.1,"y":0.0},{"x":0.1,"y":1.1},{"x":0.2,"y":0.4},{"x":0.2,"y":-0.4},{"x":0.3,"y":0.9},{"x":0.3,"y":-0.1},{"x":0.4,"y":0.3},{"x":0.4,"y":1.3},{"x":0.5,"y":-0.4},{"x":0.5,"y":0.8},{"x":0.6,"y":0.2},{"x":0.6,"y":1.2},{"x":0.7,"y":0.5},{"x":0.8,"y":-0.4},{"x":0.8,"y":1.3},{"x":0.9,"y":0.3},{"x":1.0,"y":0.9},{"x":1.1,"y":0.2},{"x":1.2,"y":1.0},{"x":1.3,"y":0.5},{"x":1.4,"y":1.3},{"x":1.5,"y":0.4},{"x":1.6,"y":1.0},{"x":1.0,"y":1.6}]},"mark":{"type":"circle","size":20,"color":"#9a9a9a","opacity":1}},
 {"data":{"values":[{"x":-4.3,"y":-2.31},{"x":4.3,"y":2.25}]},"mark":{"type":"line","color":"#231f20","strokeWidth":3.5,"clip":true}}]},
{"width":181,"height":181,"encoding":{"x":{"field":"x","type":"quantitative","scale":{"domain":[-4.3,4.3],"nice":false,"zero":false},"axis":null},"y":{"field":"y","type":"quantitative","scale":{"domain":[-4.3,4.3],"nice":false,"zero":false},"axis":null}},"layer":[
 {"data":{"values":[{"x":-3.23,"y":-0.35},{"x":-3.23,"y":-0.5},{"x":-3.23,"y":-2.2},{"x":-3.23,"y":-2.45},{"x":-3.23,"y":-2.7},{"x":-3.23,"y":-3.3},{"x":-3.1,"y":-1.6},
 {"x":-2.53,"y":0.18},{"x":-2.53,"y":-0.6},{"x":-2.53,"y":-0.8},{"x":-2.53,"y":-1.0},{"x":-2.53,"y":-1.25},{"x":-2.53,"y":-2.36},
 {"x":-1.93,"y":0.9},{"x":-1.93,"y":0.5},{"x":-1.93,"y":0.2},{"x":-1.93,"y":-0.2},{"x":-1.93,"y":-0.5},{"x":-1.93,"y":-0.8},{"x":-1.93,"y":-1.1},{"x":-1.93,"y":-1.5},{"x":-1.93,"y":-1.9},{"x":-1.93,"y":-2.3},{"x":-1.93,"y":-2.67},{"x":-1.93,"y":-3.63},
 {"x":-1.64,"y":1.64},{"x":-1.5,"y":0.8},{"x":-1.4,"y":0.3},{"x":-1.3,"y":1.2},{"x":-1.2,"y":-0.2},{"x":-1.1,"y":0.6},{"x":-1.0,"y":1.4},{"x":-0.9,"y":0.1},{"x":-0.8,"y":0.9},{"x":-0.7,"y":-0.5},{"x":-1.55,"y":-0.6},{"x":-1.45,"y":-1.1},{"x":-1.35,"y":-1.6},{"x":-1.25,"y":-0.9},{"x":-1.15,"y":-1.3},{"x":-1.05,"y":-0.4},{"x":-0.95,"y":-1.0},{"x":-0.85,"y":-1.5},{"x":-0.75,"y":0.4},{"x":-0.65,"y":1.1},{"x":-1.5,"y":-2.0},{"x":-1.3,"y":-2.5},{"x":-1.1,"y":-2.1},{"x":-0.9,"y":-1.8},{"x":-0.7,"y":-2.2},{"x":-1.2,"y":0.9},{"x":-1.0,"y":0.0},{"x":-0.8,"y":-0.8},{"x":-1.4,"y":-0.3},{"x":-0.6,"y":0.0},
 {"x":-1.5,"y":0.3},{"x":-1.2,"y":0.5},{"x":-0.9,"y":0.5},{"x":-0.7,"y":0.2},{"x":-1.3,"y":-0.5},{"x":-1.0,"y":-0.6},{"x":-0.7,"y":-1.2},{"x":-1.45,"y":-0.1},{"x":-0.8,"y":1.3},{"x":-1.1,"y":1.0},
 {"x":-0.34,"y":2.1},{"x":-0.34,"y":1.8},{"x":-0.34,"y":1.5},{"x":-0.34,"y":1.3},{"x":-0.34,"y":1.1},{"x":-0.34,"y":0.9},{"x":-0.34,"y":0.7},{"x":-0.34,"y":0.5},{"x":-0.34,"y":0.3},{"x":-0.34,"y":0.1},{"x":-0.34,"y":-0.1},{"x":-0.34,"y":-0.3},{"x":-0.34,"y":-0.5},{"x":-0.34,"y":-0.7},{"x":-0.34,"y":-0.9},{"x":-0.34,"y":-1.1},{"x":-0.34,"y":-1.3},{"x":-0.34,"y":-1.5},{"x":-0.34,"y":-1.8},{"x":-0.34,"y":-2.4},{"x":-0.34,"y":-3.15},
 {"x":-0.28,"y":2.0},{"x":-0.4,"y":1.65},{"x":-0.28,"y":1.4},{"x":-0.4,"y":1.2},{"x":-0.28,"y":1.0},{"x":-0.4,"y":0.8},{"x":-0.28,"y":0.6},{"x":-0.4,"y":0.4},{"x":-0.28,"y":0.2},{"x":-0.4,"y":0.0},{"x":-0.28,"y":-0.2},{"x":-0.4,"y":-0.4},{"x":-0.28,"y":-0.6},{"x":-0.4,"y":-0.8},{"x":-0.28,"y":-1.0},{"x":-0.4,"y":-1.2},{"x":-0.28,"y":-1.4},{"x":-0.4,"y":-1.65},{"x":-0.28,"y":-2.1},
 {"x":0.21,"y":2.56},{"x":0.21,"y":2.2},{"x":0.21,"y":1.9},{"x":0.21,"y":1.6},{"x":0.21,"y":1.3},{"x":0.21,"y":1.0},{"x":0.21,"y":0.7},{"x":0.21,"y":0.4},{"x":0.21,"y":0.1},{"x":0.21,"y":-0.2},{"x":0.21,"y":-0.5},{"x":0.21,"y":-0.8},{"x":0.21,"y":-1.1},{"x":0.21,"y":-1.4},{"x":0.21,"y":-1.7},{"x":0.21,"y":-2.0},{"x":0.21,"y":-2.4},{"x":0.21,"y":-2.83},
 {"x":0.21,"y":2.05},{"x":0.21,"y":1.75},{"x":0.21,"y":1.45},{"x":0.21,"y":1.15},{"x":0.21,"y":0.85},{"x":0.21,"y":0.55},{"x":0.21,"y":0.25},{"x":0.21,"y":-0.05},{"x":0.21,"y":-0.35},{"x":0.21,"y":-0.65},{"x":0.21,"y":-0.95},{"x":0.21,"y":-1.25},{"x":0.21,"y":-1.55},{"x":0.21,"y":-1.85},
 {"x":0.48,"y":2.8},{"x":0.48,"y":2.5},{"x":0.48,"y":2.2},{"x":0.48,"y":1.9},{"x":0.48,"y":1.6},{"x":0.48,"y":1.35},{"x":0.48,"y":1.1},{"x":0.48,"y":0.85},{"x":0.48,"y":0.6},{"x":0.48,"y":0.35},{"x":0.48,"y":0.05},{"x":0.48,"y":-0.25},{"x":0.48,"y":-0.55},{"x":0.48,"y":-0.85},{"x":0.48,"y":-1.15},{"x":0.48,"y":-1.5},{"x":0.48,"y":-2.0},{"x":0.48,"y":-2.67},
 {"x":0.48,"y":2.35},{"x":0.48,"y":2.05},{"x":0.48,"y":1.75},{"x":0.48,"y":1.48},{"x":0.48,"y":1.22},{"x":0.48,"y":0.98},{"x":0.48,"y":0.72},{"x":0.48,"y":0.48},{"x":0.48,"y":0.2},{"x":0.48,"y":-0.1},{"x":0.48,"y":-0.4},{"x":0.48,"y":-0.7},{"x":0.48,"y":-1.0},{"x":0.48,"y":-1.3},
 {"x":1.15,"y":2.32},{"x":1.25,"y":2.1},{"x":1.15,"y":1.85},{"x":1.25,"y":1.6},{"x":1.15,"y":1.35},{"x":1.25,"y":1.1},{"x":1.15,"y":0.85},{"x":1.25,"y":0.6},{"x":1.15,"y":0.35},{"x":1.25,"y":0.1},{"x":1.15,"y":-0.15},{"x":1.25,"y":-0.4},{"x":1.15,"y":-0.65},{"x":1.25,"y":-0.9},{"x":1.15,"y":-1.15},{"x":1.25,"y":-1.4},{"x":1.15,"y":-1.7},{"x":1.25,"y":-2.0},{"x":1.15,"y":-2.28},{"x":1.33,"y":-2.91},
 {"x":1.2,"y":2.2},{"x":1.2,"y":1.95},{"x":1.2,"y":1.7},{"x":1.2,"y":1.45},{"x":1.2,"y":1.2},{"x":1.2,"y":0.95},{"x":1.2,"y":0.7},{"x":1.2,"y":0.45},{"x":1.2,"y":0.2},{"x":1.2,"y":-0.05},{"x":1.2,"y":-0.3},{"x":1.2,"y":-0.55},{"x":1.2,"y":-0.8},{"x":1.2,"y":-1.05},{"x":1.2,"y":-1.3},{"x":1.2,"y":-1.55},
 {"x":1.88,"y":1.45},{"x":1.88,"y":1.2},{"x":1.88,"y":0.95},{"x":1.88,"y":0.7},{"x":1.88,"y":-0.4},{"x":1.88,"y":-0.9},{"x":1.88,"y":-1.3},{"x":1.88,"y":-2.0},{"x":1.88,"y":-2.2}]},"mark":{"type":"circle","size":20,"color":"#9a9a9a","opacity":1}},
 {"data":{"values":[{"x":-4.3,"y":-1.64},{"x":4.3,"y":1.48}]},"mark":{"type":"line","color":"#231f20","strokeWidth":3.5,"clip":true}}]},
{"width":181,"height":181,"data":{"values":[{"t":"Relative\nGrowth\nRate"}]},"mark":{"type":"text","lineBreak":"\n","align":"center","baseline":"middle","fontSize":30,"lineHeight":32},"encoding":{"text":{"field":"t","type":"nominal"},"x":{"datum":0.02,"type":"quantitative","scale":{"domain":[-4.3,4.3]},"axis":null},"y":{"datum":1.75,"type":"quantitative","scale":{"domain":[-4.3,4.3]},"axis":null}}},
{"width":181,"height":181,"data":{"values":[{"t":"R²: 0.01\np: 0.14"}]},"mark":{"type":"text","lineBreak":"\n","align":"right","baseline":"middle","fontSize":30,"lineHeight":41},"encoding":{"text":{"field":"t","type":"nominal"},"x":{"datum":2.97,"type":"quantitative","scale":{"domain":[-4.3,4.3]},"axis":null},"y":{"datum":0.8,"type":"quantitative","scale":{"domain":[-4.3,4.3]},"axis":null}}},
{"width":181,"height":181,"data":{"values":[{"t":"R²: 0.02\np: 0.02"}]},"mark":{"type":"text","lineBreak":"\n","align":"right","baseline":"middle","fontSize":30,"lineHeight":41},"encoding":{"text":{"field":"t","type":"nominal"},"x":{"datum":3.16,"type":"quantitative","scale":{"domain":[-4.3,4.3]},"axis":null},"y":{"datum":0.95,"type":"quantitative","scale":{"domain":[-4.3,4.3]},"axis":null}}},

{"width":181,"height":181,"encoding":{"x":{"field":"x","type":"quantitative","scale":{"domain":[-4.3,4.3],"nice":false,"zero":false},"axis":null},"y":{"field":"y","type":"quantitative","scale":{"domain":[-4.3,4.3],"nice":false,"zero":false},"axis":{"title":null,"values":[-4,-2,0,2,4],"labelExpr":"abs(datum.value) > 3 ? '' : '' + datum.value"}}},"layer":[
 {"data":{"values":[{"x":-1.27,"y":3.0},{"x":-0.24,"y":-2.79},{"x":-3.43,"y":0.15},{"x":-2.88,"y":0.58},{"x":2.95,"y":0.26},{"x":2.62,"y":0.66},{"x":1.74,"y":1.93},{"x":0.48,"y":2.33},{"x":-1.67,"y":1.45},{"x":-1.0,"y":1.69},{"x":0.97,"y":1.69},{"x":1.69,"y":1.21},{"x":-2.22,"y":0.42},{"x":-2.66,"y":-0.06},{"x":-2.0,"y":-0.29},{"x":-2.33,"y":-0.77},{"x":-1.89,"y":-0.93},{"x":-1.63,"y":-1.25},{"x":-1.63,"y":-1.56},{"x":-1.01,"y":-0.61},{"x":-0.79,"y":-1.8},{"x":-0.35,"y":-2.04},{"x":0.31,"y":-1.8},{"x":0.64,"y":-1.48},{"x":0.86,"y":-2.36},{"x":1.08,"y":-1.17},{"x":1.58,"y":-1.17},{"x":2.13,"y":-1.0},{"x":1.63,"y":-2.04},{"x":1.45,"y":0.02},{"x":1.96,"y":-0.21},{"x":0.97,"y":0.34},{"x":0.64,"y":-0.45},{"x":0.42,"y":0.66},{"x":0.2,"y":1.13},{"x":-1.01,"y":0.34},{"x":-1.23,"y":-0.21},{"x":-1.5,"y":0.26},{"x":-2.1,"y":0.02},{"x":0.64,"y":1.29},{"x":-0.02,"y":2.09},{"x":-0.9,"y":1.13},{"x":1.3,"y":-1.8},
 {"x":-0.2,"y":2.5},{"x":-0.3,"y":2.2},{"x":-0.15,"y":1.9},{"x":-0.35,"y":1.6},{"x":-0.25,"y":1.3},{"x":-0.1,"y":1.1},{"x":-0.4,"y":0.9},{"x":-0.2,"y":0.7},{"x":-0.3,"y":0.5},{"x":-0.15,"y":0.3},{"x":-0.35,"y":0.1},{"x":-0.25,"y":-0.1},{"x":-0.1,"y":-0.3},{"x":-0.4,"y":-0.5},{"x":-0.2,"y":-0.7},{"x":-0.3,"y":-0.9},{"x":-0.15,"y":-1.1},{"x":-0.35,"y":-1.3},{"x":-0.25,"y":0.8},{"x":-0.3,"y":-0.2},{"x":-0.2,"y":1.5},{"x":-0.1,"y":0.4}]},"mark":{"type":"circle","size":20,"color":"#9a9a9a","opacity":1}}]},
{"width":181,"height":181,"encoding":{"x":{"field":"x","type":"quantitative","scale":{"domain":[-4.3,4.3],"nice":false,"zero":false},"axis":null},"y":{"field":"y","type":"quantitative","scale":{"domain":[-4.3,4.3],"nice":false,"zero":false},"axis":null}},"layer":[
 {"data":{"values":[{"x":0.44,"y":3.0},{"x":-0.88,"y":2.28},{"x":-0.51,"y":2.44},{"x":0.59,"y":2.4},{"x":0.81,"y":2.25},{"x":-0.18,"y":2.0},{"x":0.48,"y":1.96},{"x":0.92,"y":1.77},{"x":1.25,"y":1.45},{"x":1.47,"y":1.48},{"x":-1.05,"y":1.45},{"x":-0.73,"y":1.29},{"x":-0.07,"y":1.37},{"x":0.26,"y":1.13},{"x":2.13,"y":1.13},{"x":2.24,"y":0.9},{"x":-2.59,"y":0.69},{"x":-1.82,"y":0.45},{"x":-2.04,"y":-0.06},{"x":-1.49,"y":0.02},{"x":-1.27,"y":0.34},{"x":-0.95,"y":0.66},{"x":-0.62,"y":0.42},{"x":-0.4,"y":0.15},{"x":-0.07,"y":0.5},{"x":0.26,"y":0.26},{"x":0.59,"y":0.58},{"x":0.81,"y":0.1},{"x":1.14,"y":0.34},{"x":1.47,"y":0.02},{"x":2.02,"y":-0.21},{"x":3.01,"y":-0.29},{"x":3.78,"y":-0.37},{"x":-1.6,"y":-0.45},{"x":-1.16,"y":-0.61},{"x":-0.73,"y":-0.37},{"x":-0.29,"y":-0.77},{"x":0.04,"y":-0.45},{"x":0.48,"y":-0.93},{"x":0.92,"y":-0.53},{"x":1.36,"y":-1.01},{"x":-1.49,"y":-1.17},{"x":-0.95,"y":-1.4},{"x":-0.51,"y":-1.17},{"x":-0.07,"y":-1.56},{"x":0.26,"y":-1.25},{"x":0.7,"y":-1.48},{"x":1.14,"y":-1.8},{"x":1.36,"y":-1.88},{"x":-0.62,"y":-1.8},{"x":-1.71,"y":-2.12},{"x":-0.73,"y":-2.2},{"x":-0.4,"y":-2.04},{"x":0.37,"y":-2.28},{"x":0.92,"y":-2.79},{"x":-1.27,"y":-0.13},{"x":-0.29,"y":-0.13},{"x":0.26,"y":-0.13},{"x":-0.62,"y":0.98},{"x":-1.05,"y":0.1},{"x":0.7,"y":0.98}]},"mark":{"type":"circle","size":20,"color":"#9a9a9a","opacity":1}},
 {"data":{"values":[{"x":-4.3,"y":-0.74},{"x":4.3,"y":0.63}]},"mark":{"type":"line","color":"#231f20","strokeWidth":3.5,"clip":true}}]},
{"width":181,"height":181,"encoding":{"x":{"field":"x","type":"quantitative","scale":{"domain":[-4.3,4.3],"nice":false,"zero":false},"axis":null},"y":{"field":"y","type":"quantitative","scale":{"domain":[-4.3,4.3],"nice":false,"zero":false},"axis":null}},"layer":[
 {"data":{"values":[{"x":-0.7,"y":3.0},{"x":-1.21,"y":2.28},{"x":-0.59,"y":2.44},{"x":-0.33,"y":2.28},{"x":-1.36,"y":1.77},{"x":0.48,"y":2.09},{"x":1.2,"y":2.28},{"x":1.3,"y":2.09},{"x":1.3,"y":1.77},{"x":-0.77,"y":1.4},{"x":0.22,"y":1.4},{"x":1.2,"y":1.37},{"x":1.93,"y":1.32},{"x":-1.98,"y":0.42},{"x":-1.43,"y":0.66},{"x":-0.88,"y":0.5},{"x":-0.33,"y":0.34},{"x":0.22,"y":0.66},{"x":0.48,"y":0.98},{"x":1.2,"y":0.9},{"x":1.3,"y":0.42},{"x":1.93,"y":0.5},{"x":-2.53,"y":-1.17},{"x":-2.53,"y":-2.2},{"x":-1.91,"y":-0.29},{"x":-1.91,"y":-0.93},{"x":-1.91,"y":-1.72},{"x":-1.43,"y":-0.45},{"x":-1.43,"y":-0.85},{"x":-1.43,"y":-1.4},{"x":-0.88,"y":-0.77},{"x":-0.88,"y":-1.64},{"x":-0.33,"y":-0.45},{"x":-0.33,"y":-0.93},{"x":-0.33,"y":-1.33},{"x":0.22,"y":-0.45},{"x":0.22,"y":-0.93},{"x":0.22,"y":-1.4},{"x":0.22,"y":-2.12},{"x":0.22,"y":-2.36},{"x":0.22,"y":-2.79},{"x":0.48,"y":-0.06},{"x":0.48,"y":-0.45},{"x":0.48,"y":-0.93},{"x":1.3,"y":-0.13},{"x":1.3,"y":-0.93},{"x":1.3,"y":-1.4},{"x":1.3,"y":-2.04},
 {"x":0.48,"y":1.5},{"x":0.48,"y":1.2},{"x":0.48,"y":0.7},{"x":0.48,"y":0.4},{"x":0.48,"y":0.15},{"x":0.48,"y":-0.25},{"x":0.48,"y":-0.7},{"x":0.48,"y":-1.2},{"x":0.48,"y":-1.5},{"x":0.48,"y":-1.8},{"x":0.48,"y":-2.04},
 {"x":0.22,"y":1.0},{"x":0.22,"y":0.3},{"x":0.22,"y":0.0},{"x":0.22,"y":-0.2},{"x":0.22,"y":-0.7},{"x":0.22,"y":-1.1},{"x":0.22,"y":-1.7},
 {"x":1.2,"y":1.7},{"x":1.25,"y":1.1},{"x":1.2,"y":0.6},{"x":1.25,"y":0.2},{"x":1.2,"y":-0.3},{"x":1.25,"y":-0.6},{"x":1.2,"y":-1.15},{"x":1.25,"y":-1.7},{"x":1.3,"y":2.5},
 {"x":-1.9,"y":0.05},{"x":-1.45,"y":0.2},{"x":-0.9,"y":0.1},{"x":-0.9,"y":1.0},{"x":-0.35,"y":0.9},{"x":-1.45,"y":1.05},{"x":-2.0,"y":0.7},{"x":-0.35,"y":-0.1},{"x":1.9,"y":-0.1},{"x":-0.9,"y":-0.3},{"x":1.93,"y":0.9}]},"mark":{"type":"circle","size":20,"color":"#9a9a9a","opacity":1}},
 {"data":{"values":[{"x":-4.3,"y":-0.85},{"x":4.3,"y":0.9}]},"mark":{"type":"line","color":"#231f20","strokeWidth":3.5,"clip":true}}]},
{"width":181,"height":181,"encoding":{"x":{"field":"x","type":"quantitative","scale":{"domain":[-4.3,4.3],"nice":false,"zero":false},"axis":null},"y":{"field":"y","type":"quantitative","scale":{"domain":[-4.3,4.3],"nice":false,"zero":false},"axis":null}},"layer":[
 {"data":{"values":[{"x":0.29,"y":3.0},{"x":-0.48,"y":2.44},{"x":-0.22,"y":2.25},{"x":0.18,"y":2.44},{"x":1.32,"y":2.21},{"x":1.98,"y":2.33},{"x":1.05,"y":2.01},{"x":-1.14,"y":1.69},{"x":-0.75,"y":1.77},{"x":-0.15,"y":1.53},{"x":0.51,"y":1.45},{"x":0.84,"y":1.61},{"x":-2.13,"y":1.37},{"x":-1.63,"y":1.42},{"x":1.49,"y":0.98},{"x":1.71,"y":1.13},{"x":-2.35,"y":0.42},{"x":2.48,"y":0.69},{"x":-2.68,"y":0.15},{"x":-2.42,"y":-0.06},{"x":-1.58,"y":0.1},{"x":-1.14,"y":0.5},{"x":-0.7,"y":0.66},{"x":-0.37,"y":0.34},{"x":-0.04,"y":0.74},{"x":0.29,"y":0.42},{"x":0.62,"y":0.66},{"x":1.05,"y":0.34},{"x":1.49,"y":0.1},{"x":2.26,"y":-0.37},{"x":2.15,"y":-0.77},{"x":-1.58,"y":-0.45},{"x":-1.14,"y":-0.77},{"x":-0.59,"y":-0.29},{"x":-0.15,"y":-0.53},{"x":0.29,"y":-0.21},{"x":0.62,"y":-0.69},{"x":1.05,"y":-0.37},{"x":-1.58,"y":-1.09},{"x":-1.8,"y":-1.56},{"x":-1.03,"y":-1.33},{"x":-0.59,"y":-1.09},{"x":-0.15,"y":-1.4},{"x":0.51,"y":-1.25},{"x":0.95,"y":-1.17},{"x":-0.7,"y":-1.8},{"x":-0.26,"y":-1.96},{"x":0.18,"y":-1.64},{"x":1.05,"y":-1.72},{"x":0.57,"y":-1.96},{"x":-0.81,"y":-2.17},{"x":-0.31,"y":-2.2},{"x":0.29,"y":-2.04},{"x":1.01,"y":-2.79},{"x":-1.36,"y":0.9},{"x":-0.92,"y":1.13},{"x":-0.48,"y":1.05},{"x":0.07,"y":1.13},{"x":-0.26,"y":0.02},{"x":-0.92,"y":0.02},{"x":0.73,"y":0.1},{"x":1.71,"y":-0.29},{"x":-2.02,"y":-0.45},{"x":-1.36,"y":-0.13},{"x":0.07,"y":-0.93},{"x":1.27,"y":-1.09},{"x":0.4,"y":1.13}]},"mark":{"type":"circle","size":20,"color":"#9a9a9a","opacity":1}}]},
{"width":181,"height":181,"data":{"values":[{"t":"Stem NSC\nConc."}]},"mark":{"type":"text","lineBreak":"\n","align":"center","baseline":"middle","fontSize":30,"lineHeight":32},"encoding":{"text":{"field":"t","type":"nominal"},"x":{"datum":0.02,"type":"quantitative","scale":{"domain":[-4.3,4.3]},"axis":null},"y":{"datum":0.88,"type":"quantitative","scale":{"domain":[-4.3,4.3]},"axis":null}}},
{"width":181,"height":181,"data":{"values":[{"t":"R²: 0.18\np: <0.01"}]},"mark":{"type":"text","lineBreak":"\n","align":"right","baseline":"middle","fontSize":30,"lineHeight":41},"encoding":{"text":{"field":"t","type":"nominal"},"x":{"datum":3.4,"type":"quantitative","scale":{"domain":[-4.3,4.3]},"axis":null},"y":{"datum":0.85,"type":"quantitative","scale":{"domain":[-4.3,4.3]},"axis":null}}},

{"width":181,"height":181,"encoding":{"x":{"field":"x","type":"quantitative","scale":{"domain":[-4.3,4.3],"nice":false,"zero":false},"axis":{"title":null,"values":[-4,-2,0,2,4],"labelExpr":"abs(datum.value) > 3 ? '' : '' + datum.value"}},"y":{"field":"y","type":"quantitative","scale":{"domain":[-4.3,4.3],"nice":false,"zero":false},"axis":{"title":null,"values":[-4,-2,0,2,4],"labelExpr":"abs(datum.value) > 3 ? '' : '' + datum.value"}}},"layer":[
 {"data":{"values":[{"x":-1.67,"y":2.6},{"x":-1.01,"y":2.67},{"x":-0.29,"y":2.6},{"x":1.8,"y":2.52},{"x":0.64,"y":2.2},{"x":0.31,"y":1.93},{"x":-1.27,"y":1.34},{"x":1.45,"y":1.42},{"x":2.95,"y":1.13},{"x":-2.7,"y":0.9},{"x":-1.93,"y":0.74},{"x":-3.43,"y":0.37},{"x":2.62,"y":0.47},{"x":2.07,"y":0.37},{"x":-2.1,"y":-0.21},{"x":-2.79,"y":-0.53},{"x":-1.8,"y":-0.61},{"x":-2.55,"y":-1.17},{"x":-1.56,"y":-1.17},{"x":-1.56,"y":-1.72},{"x":-1.85,"y":-2.12},{"x":-0.35,"y":-2.17},{"x":0.86,"y":-2.04},{"x":1.52,"y":-2.91},{"x":1.45,"y":-1.4},{"x":2.11,"y":-1.25},{"x":2.57,"y":-0.45},{"x":1.63,"y":-0.93},{"x":0.75,"y":-0.77},{"x":0.42,"y":0.02},{"x":0.97,"y":-0.29},{"x":0.64,"y":0.98},{"x":1.08,"y":1.13},{"x":0.31,"y":0.58},{"x":-0.9,"y":0.34},{"x":-1.01,"y":-0.29},{"x":-1.23,"y":-1.09},{"x":0.09,"y":-1.33},{"x":0.31,"y":-1.72},{"x":-0.79,"y":-1.64},
 {"x":-0.3,"y":2.0},{"x":-0.2,"y":1.7},{"x":-0.35,"y":1.4},{"x":-0.25,"y":1.1},{"x":-0.15,"y":0.9},{"x":-0.4,"y":0.7},{"x":-0.3,"y":0.5},{"x":-0.2,"y":0.3},{"x":-0.35,"y":0.1},{"x":-0.25,"y":-0.1},{"x":-0.15,"y":-0.3},{"x":-0.4,"y":-0.5},{"x":-0.3,"y":-0.7},{"x":-0.2,"y":-0.9},{"x":-0.35,"y":-1.1},{"x":-0.25,"y":-1.4},{"x":-0.3,"y":-1.8},{"x":-0.2,"y":-2.2},{"x":-0.3,"y":2.4},{"x":-0.2,"y":0.0},{"x":-0.3,"y":-0.2}]},"mark":{"type":"circle","size":20,"color":"#9a9a9a","opacity":1}}]},
{"width":181,"height":181,"encoding":{"x":{"field":"x","type":"quantitative","scale":{"domain":[-4.3,4.3],"nice":false,"zero":false},"axis":{"title":null,"values":[-4,-2,0,2,4],"labelExpr":"abs(datum.value) > 3 ? '' : '' + datum.value"}},"y":{"field":"y","type":"quantitative","scale":{"domain":[-4.3,4.3],"nice":false,"zero":false},"axis":null}},"layer":[
 {"data":{"values":[{"x":0.7,"y":2.67},{"x":1.47,"y":2.6},{"x":2.24,"y":2.6},{"x":0.37,"y":2.52},{"x":-0.44,"y":2.25},{"x":0.59,"y":2.0},{"x":0.92,"y":1.9},{"x":-1.16,"y":1.69},{"x":-0.29,"y":1.69},{"x":2.64,"y":1.77},{"x":2.24,"y":1.45},{"x":-0.62,"y":1.45},{"x":0.26,"y":1.29},{"x":1.14,"y":1.21},{"x":1.47,"y":1.29},{"x":-2.59,"y":0.47},{"x":-1.93,"y":0.9},{"x":-0.95,"y":1.05},{"x":-0.4,"y":0.9},{"x":0.04,"y":0.74},{"x":0.59,"y":0.98},{"x":1.03,"y":0.66},{"x":1.58,"y":0.58},{"x":2.46,"y":0.42},{"x":3.78,"y":0.06},{"x":-2.04,"y":0.02},{"x":-1.49,"y":0.26},{"x":-1.05,"y":0.42},{"x":-0.62,"y":0.18},{"x":-0.18,"y":0.34},{"x":0.26,"y":0.1},{"x":0.7,"y":0.26},{"x":1.36,"y":0.02},{"x":2.02,"y":-0.21},{"x":2.68,"y":-0.06},{"x":-1.82,"y":-0.37},{"x":-1.38,"y":-0.45},{"x":-0.95,"y":-0.61},{"x":-0.51,"y":-0.37},{"x":-0.07,"y":-0.53},{"x":0.37,"y":-0.29},{"x":0.81,"y":-0.69},{"x":1.58,"y":-0.45},{"x":2.24,"y":-0.53},{"x":-1.6,"y":-0.93},{"x":-1.05,"y":-1.09},{"x":-0.62,"y":-0.85},{"x":-0.07,"y":-1.17},{"x":0.48,"y":-1.09},{"x":1.14,"y":-0.85},{"x":-2.15,"y":-1.17},{"x":-1.93,"y":-1.56},{"x":-1.27,"y":-1.4},{"x":-0.73,"y":-1.64},{"x":-0.18,"y":-1.56},{"x":0.48,"y":-1.33},{"x":1.14,"y":-1.33},{"x":1.47,"y":-1.72},{"x":-1.67,"y":-2.12},{"x":-1.16,"y":-1.96},{"x":-0.51,"y":-2.12},{"x":0.26,"y":-2.04},{"x":0.2,"y":-2.91},{"x":-1.27,"y":0.66},{"x":-0.73,"y":0.66},{"x":0.04,"y":-0.06},{"x":0.7,"y":-0.13}]},"mark":{"type":"circle","size":20,"color":"#9a9a9a","opacity":1}},
 {"data":{"values":[{"x":-4.3,"y":-1.33},{"x":4.3,"y":1.25}]},"mark":{"type":"line","color":"#231f20","strokeWidth":3.5,"clip":true}}]},
{"width":181,"height":181,"encoding":{"x":{"field":"x","type":"quantitative","scale":{"domain":[-4.3,4.3],"nice":false,"zero":false},"axis":{"title":null,"values":[-4,-2,0,2,4],"labelExpr":"abs(datum.value) > 3 ? '' : '' + datum.value"}},"y":{"field":"y","type":"quantitative","scale":{"domain":[-4.3,4.3],"nice":false,"zero":false},"axis":null}},"layer":[
 {"data":{"values":[{"x":-0.66,"y":2.67},{"x":0.48,"y":2.6},{"x":-0.33,"y":2.25},{"x":0.48,"y":2.17},{"x":1.2,"y":1.9},{"x":1.93,"y":1.85},{"x":-0.88,"y":1.45},{"x":-0.33,"y":1.45},{"x":0.22,"y":1.37},{"x":0.48,"y":1.77},{"x":0.48,"y":1.37},{"x":0.48,"y":0.98},{"x":0.48,"y":0.58},{"x":0.48,"y":0.18},{"x":0.48,"y":-0.21},{"x":0.48,"y":-0.61},{"x":0.48,"y":-1.01},{"x":0.48,"y":-1.4},{"x":0.22,"y":1.13},{"x":0.22,"y":0.5},{"x":0.22,"y":-0.13},{"x":0.22,"y":-0.77},{"x":0.22,"y":-1.4},{"x":0.22,"y":-1.8},{"x":0.22,"y":-2.17},{"x":1.2,"y":1.13},{"x":1.2,"y":0.74},{"x":1.2,"y":0.34},{"x":1.2,"y":-0.06},{"x":1.2,"y":-0.45},{"x":1.3,"y":0.9},{"x":1.3,"y":0.18},{"x":1.93,"y":0.9},{"x":1.93,"y":-0.45},{"x":1.3,"y":-2.04},{"x":-2.53,"y":0.42},{"x":-2.53,"y":-0.45},{"x":-2.53,"y":-1.33},{"x":-2.53,"y":-1.96},{"x":-1.91,"y":0.1},{"x":-1.91,"y":-0.61},{"x":-1.91,"y":-1.25},{"x":-1.91,"y":-2.2},{"x":-1.43,"y":0.9},{"x":-1.43,"y":0.42},{"x":-1.43,"y":-0.13},{"x":-1.43,"y":-0.77},{"x":-1.43,"y":-1.4},{"x":-1.43,"y":-1.96},{"x":-0.88,"y":0.82},{"x":-0.88,"y":0.18},{"x":-0.88,"y":-0.45},{"x":-0.88,"y":-1.09},{"x":-0.88,"y":-1.64},{"x":-0.33,"y":0.82},{"x":-0.33,"y":0.18},{"x":-0.33,"y":-0.53},{"x":-0.33,"y":-1.17},{"x":-0.33,"y":-1.72},{"x":-0.33,"y":-2.91},{"x":-1.21,"y":1.61},{"x":-0.55,"y":1.53},{"x":-1.65,"y":0.5},{"x":-1.21,"y":-0.45},{"x":-0.66,"y":-0.77},{"x":-1.54,"y":-1.09},{"x":0.22,"y":0.2},{"x":0.48,"y":-1.8},{"x":1.2,"y":-1.0},{"x":0.22,"y":-0.45}]},"mark":{"type":"circle","size":20,"color":"#9a9a9a","opacity":1}},
 {"data":{"values":[{"x":-4.3,"y":-1.37},{"x":4.3,"y":1.4}]},"mark":{"type":"line","color":"#231f20","strokeWidth":3.5,"clip":true}}]},
{"width":181,"height":181,"encoding":{"x":{"field":"x","type":"quantitative","scale":{"domain":[-4.3,4.3],"nice":false,"zero":false},"axis":{"title":"Scaled Trait Values","titleX":-3,"titleY":70,"titleAlign":"center","titleBaseline":"alphabetic","titleAngle":0,"values":[-4,-2,0,2,4],"labelExpr":"abs(datum.value) > 3 ? '' : '' + datum.value"}},"y":{"field":"y","type":"quantitative","scale":{"domain":[-4.3,4.3],"nice":false,"zero":false},"axis":null}},"layer":[
 {"data":{"values":[{"x":-0.81,"y":2.6},{"x":-0.26,"y":2.52},{"x":0.18,"y":2.67},{"x":-1.63,"y":2.17},{"x":-0.37,"y":2.25},{"x":-0.22,"y":1.77},{"x":0.4,"y":1.93},{"x":0.66,"y":1.93},{"x":-0.48,"y":1.53},{"x":0.07,"y":1.45},{"x":-1.03,"y":1.29},{"x":0.51,"y":1.13},{"x":1.05,"y":1.05},{"x":-2.13,"y":0.9},{"x":-1.47,"y":0.74},{"x":-0.81,"y":0.82},{"x":-0.26,"y":0.9},{"x":0.4,"y":0.74},{"x":0.84,"y":0.66},{"x":1.93,"y":0.74},{"x":-2.42,"y":0.58},{"x":-1.8,"y":0.34},{"x":-1.14,"y":0.26},{"x":-0.59,"y":0.42},{"x":-0.04,"y":0.26},{"x":0.51,"y":0.34},{"x":1.05,"y":0.18},{"x":1.6,"y":0.42},{"x":-1.58,"y":-0.13},{"x":-0.92,"y":-0.29},{"x":-0.37,"y":-0.13},{"x":0.18,"y":-0.29},{"x":0.73,"y":-0.13},{"x":1.27,"y":-0.29},{"x":-1.69,"y":-0.61},{"x":-1.14,"y":-0.77},{"x":-0.59,"y":-0.69},{"x":-0.04,"y":-0.85},{"x":0.62,"y":-0.77},{"x":1.16,"y":-0.69},{"x":2.15,"y":-1.25},{"x":-1.8,"y":-1.17},{"x":-1.25,"y":-1.33},{"x":-0.7,"y":-1.25},{"x":-0.15,"y":-1.4},{"x":0.4,"y":-1.17},{"x":1.05,"y":-1.4},{"x":1.49,"y":-1.09},{"x":-1.36,"y":-1.72},{"x":-0.81,"y":-1.8},{"x":-0.26,"y":-1.72},{"x":0.29,"y":-2.12},{"x":0.84,"y":-1.72},{"x":-1.47,"y":-2.2},{"x":-0.92,"y":-2.04},{"x":1.01,"y":-2.91},{"x":-0.48,"y":0.02},{"x":0.07,"y":-0.45},{"x":-1.36,"y":1.21},{"x":1.49,"y":0.02}]},"mark":{"type":"circle","size":20,"color":"#9a9a9a","opacity":1}},
 {"data":{"values":[{"x":-4.3,"y":-0.74},{"x":4.3,"y":0.63}]},"mark":{"type":"line","color":"#231f20","strokeWidth":3.5,"clip":true}}]},
{"width":181,"height":181,"encoding":{"x":{"field":"x","type":"quantitative","scale":{"domain":[-4.3,4.3],"nice":false,"zero":false},"axis":{"title":null,"values":[-4,-2,0,2,4],"labelExpr":"abs(datum.value) > 3 ? '' : '' + datum.value"}},"y":{"field":"y","type":"quantitative","scale":{"domain":[-4.3,4.3],"nice":false,"zero":false},"axis":null}},"layer":[
 {"data":{"values":[{"x":-0.2,"y":2.55},{"x":0.71,"y":2.66},{"x":1.23,"y":2.58},{"x":1.5,"y":2.55},{"x":2.02,"y":2.52},{"x":-0.44,"y":2.23},{"x":0.67,"y":2.15},{"x":1.47,"y":2.15},{"x":-0.94,"y":1.68},{"x":-0.12,"y":1.75},{"x":0.6,"y":1.75},{"x":0.75,"y":1.44},{"x":1.63,"y":1.28},{"x":-1.47,"y":1.12},{"x":-1.07,"y":0.96},{"x":-0.67,"y":0.8},{"x":-0.28,"y":0.96},{"x":0.2,"y":0.88},{"x":0.6,"y":0.72},{"x":1.07,"y":0.8},{"x":1.39,"y":0.72},{"x":2.02,"y":0.96},{"x":2.34,"y":0.33},{"x":3.06,"y":0.25},{"x":-2.1,"y":0.4},{"x":-1.71,"y":0.17},{"x":-1.23,"y":0.4},{"x":-0.75,"y":0.25},{"x":-0.36,"y":0.4},{"x":-0.04,"y":0.17},{"x":0.36,"y":0.33},{"x":0.83,"y":0.17},{"x":1.31,"y":0.01},{"x":1.79,"y":0.33},{"x":-1.94,"y":-0.15},{"x":-1.47,"y":-0.31},{"x":-1.07,"y":-0.47},{"x":-0.6,"y":-0.31},{"x":-0.2,"y":-0.15},{"x":0.2,"y":-0.39},{"x":0.6,"y":-0.23},{"x":1.15,"y":-0.31},{"x":2.1,"y":-0.39},{"x":-2.74,"y":-1.58},{"x":-2.02,"y":-1.1},{"x":-1.55,"y":-0.87},{"x":-1.15,"y":-1.03},{"x":-0.75,"y":-0.87},{"x":-0.36,"y":-0.79},{"x":0.04,"y":-0.95},{"x":0.44,"y":-0.71},{"x":0.99,"y":-1.26},{"x":1.47,"y":-1.18},{"x":-1.47,"y":-1.42},{"x":-0.99,"y":-1.34},{"x":-0.6,"y":-1.5},{"x":-0.12,"y":-1.34},{"x":-2.02,"y":-2.13},{"x":-1.07,"y":-2.21},{"x":-0.67,"y":-1.82},{"x":-0.28,"y":-1.74},{"x":-1.07,"y":-2.93},{"x":-1.31,"y":-1.74},{"x":0.04,"y":0.48},{"x":-0.44,"y":0.0},{"x":0.28,"y":-0.07}]},"mark":{"type":"circle","size":20,"color":"#9a9a9a","opacity":1}},
 {"data":{"values":[{"x":-4.3,"y":-1.82},{"x":4.3,"y":1.7}]},"mark":{"type":"line","color":"#231f20","strokeWidth":3.5,"clip":true}}]},
{"width":181,"height":181,"data":{"values":[{"t":"Root NSC\nConc."}]},"mark":{"type":"text","lineBreak":"\n","align":"center","baseline":"middle","fontSize":30,"lineHeight":32},"encoding":{"text":{"field":"t","type":"nominal"},"x":{"datum":-0.19,"type":"quantitative","scale":{"domain":[-4.3,4.3]},"axis":null},"y":{"datum":1.54,"type":"quantitative","scale":{"domain":[-4.3,4.3]},"axis":null}}}
]}
